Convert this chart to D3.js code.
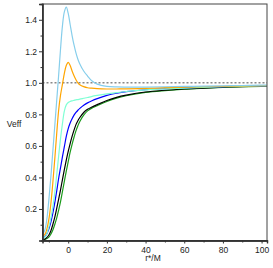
<!DOCTYPE html>
<html>
<head>
<meta charset="utf-8">
<script src="https://cdn.jsdelivr.net/npm/d3@7"></script>
<style>
  body { margin: 0; background: #fff; }
  text { font-family: "Liberation Sans", Arial, sans-serif; }
</style>
</head>
<body>
<div id="plot"></div>
<script>
// tortoise coordinate samples
var rStar = [-13.3, -12, -11, -10, -9, -8, -7, -6, -5, -4, -3, -2, -1, 0, 1, 2, 3, 4, 5, 6, 8, 10, 12, 15, 20, 25, 30, 40, 50, 60, 70, 80, 90, 100, 103];

var vSky    = [0.035, 0.07, 0.14, 0.26, 0.40, 0.56, 0.72, 0.88, 1.04, 1.21, 1.36, 1.45, 1.48, 1.44, 1.37, 1.30, 1.24, 1.19, 1.15, 1.12, 1.075, 1.043, 1.015, 0.992, 0.978, 0.974, 0.973, 0.973, 0.975, 0.977, 0.979, 0.981, 0.983, 0.985, 0.985];
var vOrange = [0.025, 0.04, 0.075, 0.135, 0.23, 0.36, 0.51, 0.67, 0.82, 0.92, 0.99, 1.06, 1.11, 1.13, 1.11, 1.075, 1.045, 1.02, 1.0, 0.988, 0.976, 0.969, 0.966, 0.963, 0.961, 0.961, 0.962, 0.965, 0.969, 0.972, 0.975, 0.978, 0.980, 0.982, 0.982];
var vAqua   = [0.012, 0.022, 0.045, 0.085, 0.14, 0.21, 0.30, 0.41, 0.53, 0.645, 0.74, 0.82, 0.86, 0.875, 0.882, 0.886, 0.889, 0.892, 0.894, 0.897, 0.902, 0.907, 0.913, 0.920, 0.930, 0.938, 0.945, 0.955, 0.962, 0.967, 0.971, 0.975, 0.978, 0.981, 0.981];
var vBlue   = [0.012, 0.025, 0.045, 0.075, 0.115, 0.17, 0.235, 0.31, 0.39, 0.46, 0.53, 0.595, 0.66, 0.71, 0.745, 0.772, 0.795, 0.812, 0.826, 0.838, 0.858, 0.873, 0.885, 0.900, 0.920, 0.934, 0.944, 0.956, 0.963, 0.968, 0.972, 0.976, 0.979, 0.981, 0.981];
var vBlack  = [0.005, 0.01, 0.02, 0.035, 0.06, 0.10, 0.145, 0.20, 0.26, 0.32, 0.385, 0.45, 0.51, 0.565, 0.615, 0.66, 0.70, 0.735, 0.76, 0.78, 0.812, 0.832, 0.845, 0.862, 0.888, 0.908, 0.922, 0.942, 0.953, 0.961, 0.967, 0.972, 0.976, 0.979, 0.979];
var vGreen  = [0.003, 0.006, 0.012, 0.022, 0.04, 0.065, 0.10, 0.14, 0.19, 0.245, 0.31, 0.375, 0.44, 0.50, 0.56, 0.61, 0.655, 0.695, 0.728, 0.755, 0.795, 0.822, 0.838, 0.855, 0.882, 0.903, 0.918, 0.939, 0.951, 0.960, 0.966, 0.971, 0.975, 0.978, 0.978];

var seriesNames  = ["green", "black", "blue", "aqua", "orange", "sky"];
var seriesColors = ["#1a9a1a", "#000000", "#0000ff", "#7fffd4", "#ffa500", "#87ceeb"];
var seriesValues = [vGreen, vBlack, vBlue, vAqua, vOrange, vSky];

var yTicks = [0.2, 0.4, 0.6, 0.8, 1.0, 1.2, 1.4];
var yMinor = [0.1, 0.3, 0.5, 0.7, 0.9, 1.1, 1.3];
var xTicks = [0, 20, 40, 60, 80, 100];
var xMinor = [-10, 10, 30, 50, 70, 90];
var refLevel = 1.0;

var width = 273, height = 268;
var margin = { top: 4, right: 6, bottom: 27.5, left: 42.5 };
var fontSize = 8.5;

var svg = d3.select("div#plot")
  .append("svg")
  .attr("width", width)
  .attr("height", height);

var x = d3.scaleLinear()
  .domain([-13.3, 102.8])
  .range([margin.left, width - margin.right]);

var y = d3.scaleLinear()
  .domain([0, 1.5])
  .range([height - margin.bottom, margin.top]);

svg.append("clipPath")
  .attr("id", "clip")
  .append("rect")
  .attr("x", margin.left)
  .attr("y", margin.top)
  .attr("width", width - margin.left - margin.right)
  .attr("height", height - margin.top - margin.bottom);

// reference line
svg.append("line")
  .attr("x1", x.range()[0]).attr("x2", x.range()[1])
  .attr("y1", y(refLevel)).attr("y2", y(refLevel))
  .attr("stroke", "#888")
  .attr("stroke-width", 1.5)
  .attr("stroke-dasharray", "2,2");

var line = d3.line()
  .x(function(d) { return x(d[0]); })
  .y(function(d) { return y(d[1]); })
  .curve(d3.curveCatmullRom.alpha(0.5));

var plot = svg.append("g").attr("clip-path", "url(#clip)");
seriesValues.forEach(function(vals, i) {
  plot.append("path")
    .datum(rStar.map(function(r, j) { return [r, vals[j]]; }))
    .attr("class", "curve-" + seriesNames[i])
    .attr("fill", "none")
    .attr("stroke", seriesColors[i])
    .attr("stroke-width", 1.2)
    .attr("d", line);
});

// frame
svg.append("rect")
  .attr("x", margin.left)
  .attr("y", margin.top)
  .attr("width", width - margin.left - margin.right)
  .attr("height", height - margin.top - margin.bottom)
  .attr("fill", "none")
  .attr("stroke", "#444")
  .attr("stroke-width", 1);

// axes
svg.append("g")
  .attr("transform", "translate(" + margin.left + ",0)")
  .call(d3.axisLeft(y).tickValues(yTicks).tickSize(3.5).tickPadding(2)
    .tickFormat(d3.format(".1f")));
svg.append("g")
  .attr("transform", "translate(" + margin.left + ",0)")
  .call(d3.axisLeft(y).tickValues(yMinor).tickSize(2).tickFormat(""));

svg.append("g")
  .attr("transform", "translate(0," + (height - margin.bottom) + ")")
  .call(d3.axisBottom(x).tickValues(xTicks).tickSize(3).tickPadding(3)
    .tickFormat(d3.format("d")));
svg.append("g")
  .attr("transform", "translate(0," + (height - margin.bottom) + ")")
  .call(d3.axisBottom(x).tickValues(xMinor).tickSize(2).tickFormat(""));

svg.selectAll(".domain").attr("stroke", "#333").attr("stroke-width", 1.3);
svg.selectAll(".tick line").attr("stroke", "#333");
svg.selectAll(".tick text").attr("font-size", fontSize).attr("fill", "#222")
  .attr("font-family", "'Liberation Sans', Arial, sans-serif");

svg.append("text")
  .attr("x", 14)
  .attr("y", 127)
  .attr("text-anchor", "middle")
  .attr("font-size", fontSize)
  .attr("fill", "#222")
  .text("Veff");

svg.append("text")
  .attr("x", 153)
  .attr("y", 261)
  .attr("text-anchor", "middle")
  .attr("font-size", fontSize)
  .attr("fill", "#222")
  .text("r*/M");
</script>
</body>
</html>
